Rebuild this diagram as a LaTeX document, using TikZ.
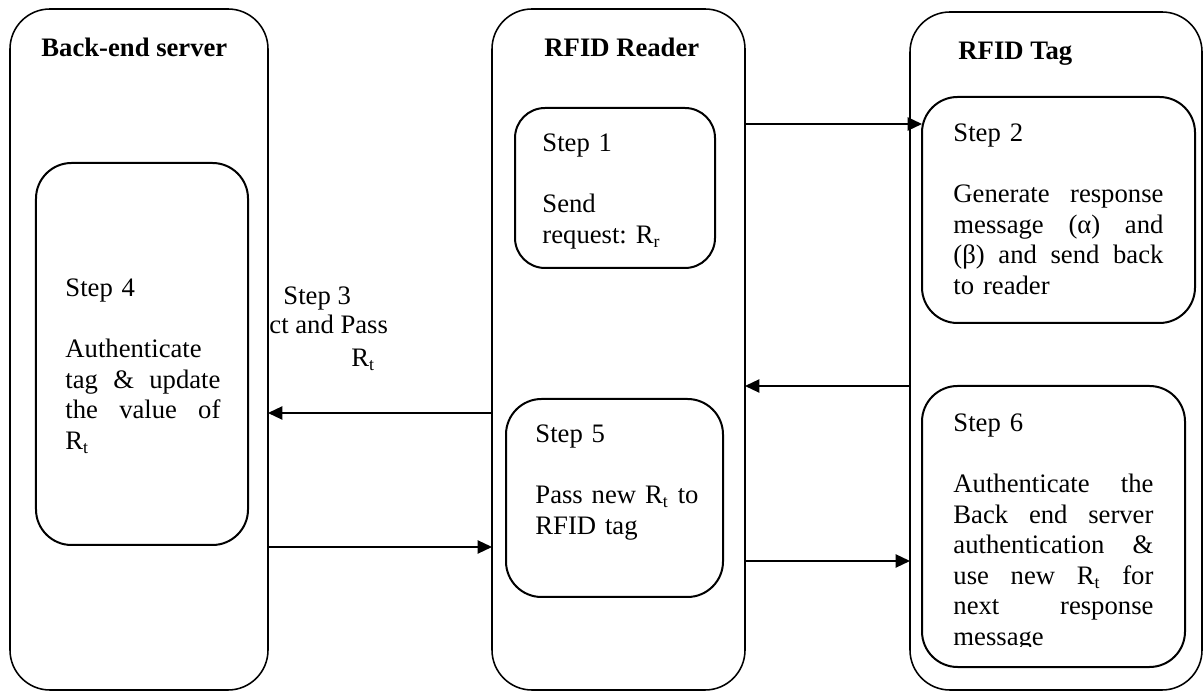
\documentclass[tikz,border=0pt]{standalone}
\usepackage{fontspec}
\setmainfont{Liberation Serif}
\usetikzlibrary{arrows.meta}
\newcommand{\jline}[2]{\leavevmode\hbox to #1{#2}}
\begin{document}
\begin{tikzpicture}[x=0.45pt,y=-0.45pt,
  outerbox/.style={draw, line width=0.7pt, rounded corners=18pt, inner sep=0pt, outer sep=0pt},
  innerbox/.style={draw, line width=0.9pt, rounded corners=16pt, inner sep=0pt, outer sep=0pt},
  title/.style={font=\fontsize{12}{13.7}\selectfont\bfseries, anchor=base west, inner sep=0pt},
  body/.style={font=\fontsize{12}{13.7}\selectfont\frenchspacing, anchor=base west, inner sep=0pt, align=left},
  arr/.style={line width=0.7pt, -{Triangle[length=6.5pt,width=6pt]}}]
\useasboundingbox (0,0) rectangle (1204,692);
% outer lanes
\node[outerbox, minimum width=116.1pt, minimum height=306.45pt] (server) at (139,349.5) {};
\node[outerbox, minimum width=113.85pt, minimum height=306.45pt] (reader) at (618.5,349.5) {};
\node[outerbox, minimum width=131.4pt, minimum height=305.1pt] (tag) at (1056,351) {};
% inner step boxes
\node[innerbox, minimum width=95.4pt, minimum height=171.9pt] (s4box) at (142,354) {};
\node[innerbox, rounded corners=13.5pt, minimum width=90pt, minimum height=72pt] (s1box) at (615,188) {};
\node[innerbox, minimum width=97.65pt, minimum height=89.1pt] (s5box) at (614.5,498) {};
\node[innerbox, minimum width=122.85pt, minimum height=101.7pt] (s2box) at (1058.5,210) {};
\node[innerbox, minimum width=118.35pt, minimum height=126.45pt] (s6box) at (1053.5,526.5) {};
% titles
\node[title] (t1) at (41,57) {Back-end server};
\node[title] (t2) at (544,57) {RFID Reader};
\node[title] (t3) at (958,60) {RFID Tag};
% step texts
\node[body, text width=70pt] (s1) at (542,152) {Step 1\\[13.7pt]Send\\request: R\textsubscript{r}};
\node[body, text width=94.5pt] (s2) at (953,142) {Step 2\\[13.7pt]\jline{94.5pt}{Generate \hfill response}\\\jline{94.5pt}{message \hfill (α) \hfill and}\\\jline{94.5pt}{(β) \hfill and \hfill send \hfill back}\\to reader};
\node[body, text width=69.75pt] (s4) at (65,297) {Step 4\\[13.7pt]Authenticate\\\jline{69.75pt}{tag \hfill \& \hfill update}\\\jline{69.75pt}{the \hfill value \hfill of}\\R\textsubscript{t}};
\node[body, text width=84pt] (s5) at (535,443) {Step 5\\[13.7pt]Pass new R\textsubscript{t} to\\RFID tag};
\begin{scope}
\clip (930,400) rectangle (1180,647);
\node[body, text width=90pt] (s6) at (953,432) {Step 6\\[13.7pt]\jline{90pt}{Authenticate \hfill the}\\\jline{90pt}{Back \hfill end \hfill server}\\\jline{90pt}{authentication \hfill \&}\\\jline{90pt}{use \hfill new \hfill R\textsubscript{t} \hfill for}\\\jline{90pt}{next \hfill response}\\message};
\end{scope}
\node[body] (s3a) at (283,305) {Step 3};
\node[body] (s3b) at (269,334) {ct and Pass};
\node[body] (s3c) at (351,367) {R\textsubscript{t}};
% connectors
\coordinate (y1) at (0,124);
\coordinate (y2) at (0,386);
\coordinate (y3) at (0,413);
\coordinate (y4) at (0,547);
\coordinate (y5) at (0,561);
\draw[arr] (reader.east |- y1) -- (s2box.west |- y1);
\draw[arr] (tag.west |- y2) -- (reader.east |- y2);
\draw[arr] (reader.west |- y3) -- (server.east |- y3);
\draw[arr] (server.east |- y4) -- (reader.west |- y4);
\draw[arr] (reader.east |- y5) -- (tag.west |- y5);
\end{tikzpicture}
\end{document}
